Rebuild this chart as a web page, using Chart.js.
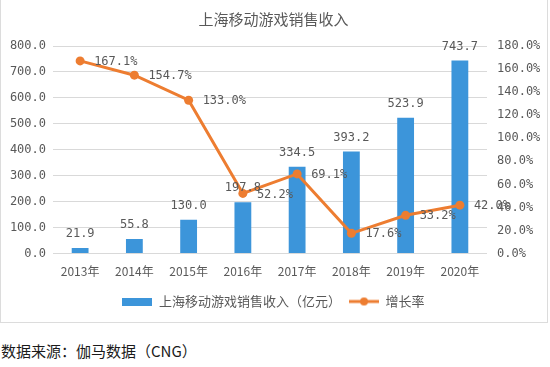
<!DOCTYPE html>
<html><head><meta charset="utf-8">
<script src="https://cdn.jsdelivr.net/npm/chart.js@4"></script>
<style>
html,body{margin:0;padding:0;background:#fff;}
#box{position:absolute;left:0;top:0;width:546px;height:322px;border:1px solid #dcdcdc;border-top:none;}
#wrap{position:absolute;left:0;top:0;width:547px;height:320px;}
#src{position:absolute;left:1px;top:340px;font-family:"Noto Sans CJK SC";font-size:15px;color:#1a1a1a;}
</style></head>
<body>
<div id="box"></div>
<div id="wrap"><canvas id="c"></canvas></div>
<div id="src">数据来源：伽马数据（CNG）</div>
<script>
const categories = ["2013年","2014年","2015年","2016年","2017年","2018年","2019年","2020年"];
const revenue = [21.9, 55.8, 130.0, 197.8, 334.5, 393.2, 523.9, 743.7];
const growth = [167.1, 154.7, 133.0, 52.2, 69.1, 17.6, 33.2, 42.0];
const leftTicks = [0,100,200,300,400,500,600,700,800];
const rightTicks = [0,20,40,60,80,100,120,140,160,180];

const BLUE = "#3C95DA", ORANGE = "#ED7D31", GRAY = "#595959";
const FONT = '"Noto Sans CJK SC", sans-serif';
const NUMFONT = '"DejaVu Sans Mono", monospace';

function barIcon(){const c=document.createElement('canvas');c.width=30;c.height=8;const x=c.getContext('2d');x.fillStyle=BLUE;x.fillRect(0,0,30,8);return c;}
function lineIcon(){const c=document.createElement('canvas');c.width=30;c.height=10;const x=c.getContext('2d');x.strokeStyle=ORANGE;x.lineWidth=3;x.beginPath();x.moveTo(0,5);x.lineTo(30,5);x.stroke();x.fillStyle=ORANGE;x.beginPath();x.arc(15,5,4,0,Math.PI*2);x.fill();return c;}

const labelPlugin = {
  id:'labels',
  afterDatasetsDraw(chart){
    const ctx = chart.ctx;
    ctx.save();
    ctx.font = '12px ' + NUMFONT;
    ctx.fillStyle = GRAY;
    const m0 = chart.getDatasetMeta(1);
    ctx.textAlign='center'; ctx.textBaseline='bottom';
    m0.data.forEach((el,i)=>{ ctx.fillText(revenue[i].toFixed(1), el.x, el.y-8); });
    const m1 = chart.getDatasetMeta(0);
    ctx.textAlign='left'; ctx.textBaseline='middle';
    m1.data.forEach((el,i)=>{ ctx.fillText(growth[i].toFixed(1)+'%', el.x+14, el.y+1); });
    ctx.restore();
  }
};

new Chart(document.getElementById('c'), {
  data:{
    labels: categories,
    datasets:[
      {type:'line', label:'增长率', data:growth, yAxisID:'y1', borderColor:ORANGE, backgroundColor:ORANGE, borderWidth:3, pointRadius:4.5, pointBackgroundColor:ORANGE, pointBorderWidth:0, tension:0, order:0},
      {type:'bar', label:'上海移动游戏销售收入（亿元）', data:revenue, yAxisID:'y', backgroundColor:BLUE, categoryPercentage:0.62, barPercentage:0.5, order:1}
    ]
  },
  options:{
    responsive:true, maintainAspectRatio:false, animation:false,
    layout:{padding:{left:0,right:0,top:4,bottom:2}},
    plugins:{
      title:{display:true, text:'上海移动游戏销售收入', color:GRAY, font:{family:FONT, size:15, weight:'normal'}, padding:{top:6,bottom:18}},
      legend:{position:'bottom', labels:{usePointStyle:true, pointStyleWidth:30, color:GRAY, font:{family:FONT,size:13}, padding:8,
        generateLabels(chart){return [
          {text:'上海移动游戏销售收入（亿元）', pointStyle:barIcon(), datasetIndex:1, fontColor:GRAY, hidden:false},
          {text:'增长率', pointStyle:lineIcon(), datasetIndex:0, fontColor:GRAY, hidden:false}
        ];}}},
      tooltip:{enabled:false}
    },
    scales:{
      x:{grid:{display:false}, border:{display:false}, ticks:{color:GRAY, font:{family:FONT,size:12}, padding:3}, afterFit(s){s.height+=5;}},
      y:{position:'left', min:0, max:800, afterBuildTicks(s){s.ticks=leftTicks.map(v=>({value:v}));},
         ticks:{color:GRAY, font:{family:NUMFONT,size:12}, callback:v=>v.toFixed(1), padding:7},
         grid:{color:'#d9d9d9', drawTicks:false}, border:{display:false}, afterFit(s){s.width=53;}},
      y1:{position:'right', min:0, max:180, afterBuildTicks(s){s.ticks=rightTicks.map(v=>({value:v}));},
         ticks:{color:GRAY, font:{family:NUMFONT,size:12}, callback:v=>v.toFixed(1)+'%', padding:10},
         grid:{display:false, drawTicks:false}, border:{display:false}, afterFit(s){s.width=60;}}
    }
  },
  plugins:[labelPlugin]
});
</script>
</body></html>
